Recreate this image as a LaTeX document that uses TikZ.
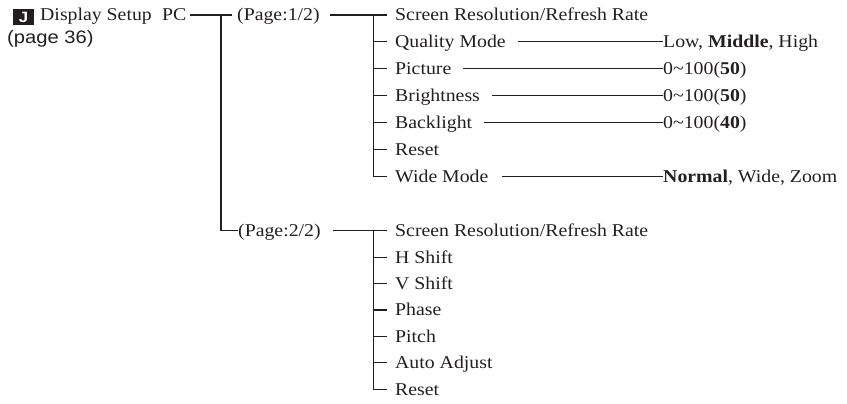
\documentclass[tikz,border=0pt]{standalone}
\usepackage{fontspec}
\setmainfont{Liberation Serif}[FakeStretch=1.1]
\newfontfamily\labsans{Liberation Sans}[FakeStretch=1.12]
\definecolor{ink}{HTML}{231F20}
\begin{document}
\begin{tikzpicture}[x=1pt,y=-1pt,
  txt/.style={anchor=west,inner sep=0pt,text height=12pt,text depth=0pt,font=\fontsize{18}{20}\selectfont,text=ink},
  link/.style={draw=ink,line width=1.1pt},
  jbox/.style={fill=ink,text=white,inner sep=0pt,minimum width=21pt,minimum height=16pt,font=\labsans\bfseries\fontsize{15}{16}\selectfont}]
\useasboundingbox (0,0) rectangle (847,404);
% header
\node[jbox] (J) at (23.5,17) {J};
\node[txt] (ds) at (40,15) {Display Setup};
\node[txt] (pc) at (162,15) {PC};
\node[anchor=west,inner sep=0pt,text height=13pt,text depth=3pt,font=\labsans\fontsize{18}{20}\selectfont,text=ink] (pg) at (7,39) {(page 36)};
% level 1
\node[txt] (p1) at (237,15) {(Page:1/2)};
\node[txt] (p2) at (238,230.7) {(Page:2/2)};
\coordinate (v1) at (221,15);
\draw[link] ([xshift=3pt]pc.east) -- ([xshift=-5pt]p1.west);
\draw[link] (v1) |- (p2.west);
% page 1 items
\foreach \n/\t [count=\i from 0] in {a1/Screen Resolution\slash Refresh Rate,a2/Quality Mode,a3/Picture,a4/Brightness,a5/Backlight,a6/Reset,a7/Wide Mode}
  \node[txt] (\n) at (395,15+26.95*\i) {\t};
\coordinate (b1) at (373.3,15);
\draw[link] ([xshift=10pt]p1.east) -- ([xshift=-8pt]a1.west);
\draw[link] (b1) |- ([xshift=-8pt]a7.west);
\foreach \n in {a2,a3,a4,a5,a6}
  \draw[link] (b1 |- \n.west) -- ([xshift=-8pt]\n.west);
% values
\node[txt] (q) at (663,15+26.95) {Low, \textbf{Middle}, High};
\node[txt] (r1) at (663,15+2*26.95) {0\textasciitilde100(\textbf{50})};
\node[txt] (r2) at (663,15+3*26.95) {0\textasciitilde100(\textbf{50})};
\node[txt] (r3) at (663,15+4*26.95) {0\textasciitilde100(\textbf{40})};
\node[txt] (w) at (663,15+6*26.95) {\textbf{Normal}, Wide, Zoom};
\draw[link] ([xshift=12pt]a2.east) -- (q.west);
\draw[link] ([xshift=12pt]a3.east) -- (r1.west);
\draw[link] ([xshift=12pt]a4.east) -- (r2.west);
\draw[link] ([xshift=12pt]a5.east) -- (r3.west);
\draw[link] ([xshift=13pt]a7.east) -- (w.west);
% page 2 items
\foreach \n/\t [count=\i from 0] in {c1/Screen Resolution\slash Refresh Rate,c2/H Shift,c3/V Shift,c4/Phase,c5/Pitch,c6/Auto Adjust,c7/Reset}
  \node[txt] (\n) at (395,230.7+26.43*\i) {\t};
\coordinate (b2) at (373.3,230.7);
\draw[link] ([xshift=12pt]p2.east) -- ([xshift=-8pt]c1.west);
\draw[link] (b2) |- ([xshift=-8pt]c7.west);
\foreach \n in {c2,c3,c4,c5,c6}
  \draw[link] (b2 |- \n.west) -- ([xshift=-8pt]\n.west);
\end{tikzpicture}
\end{document}
